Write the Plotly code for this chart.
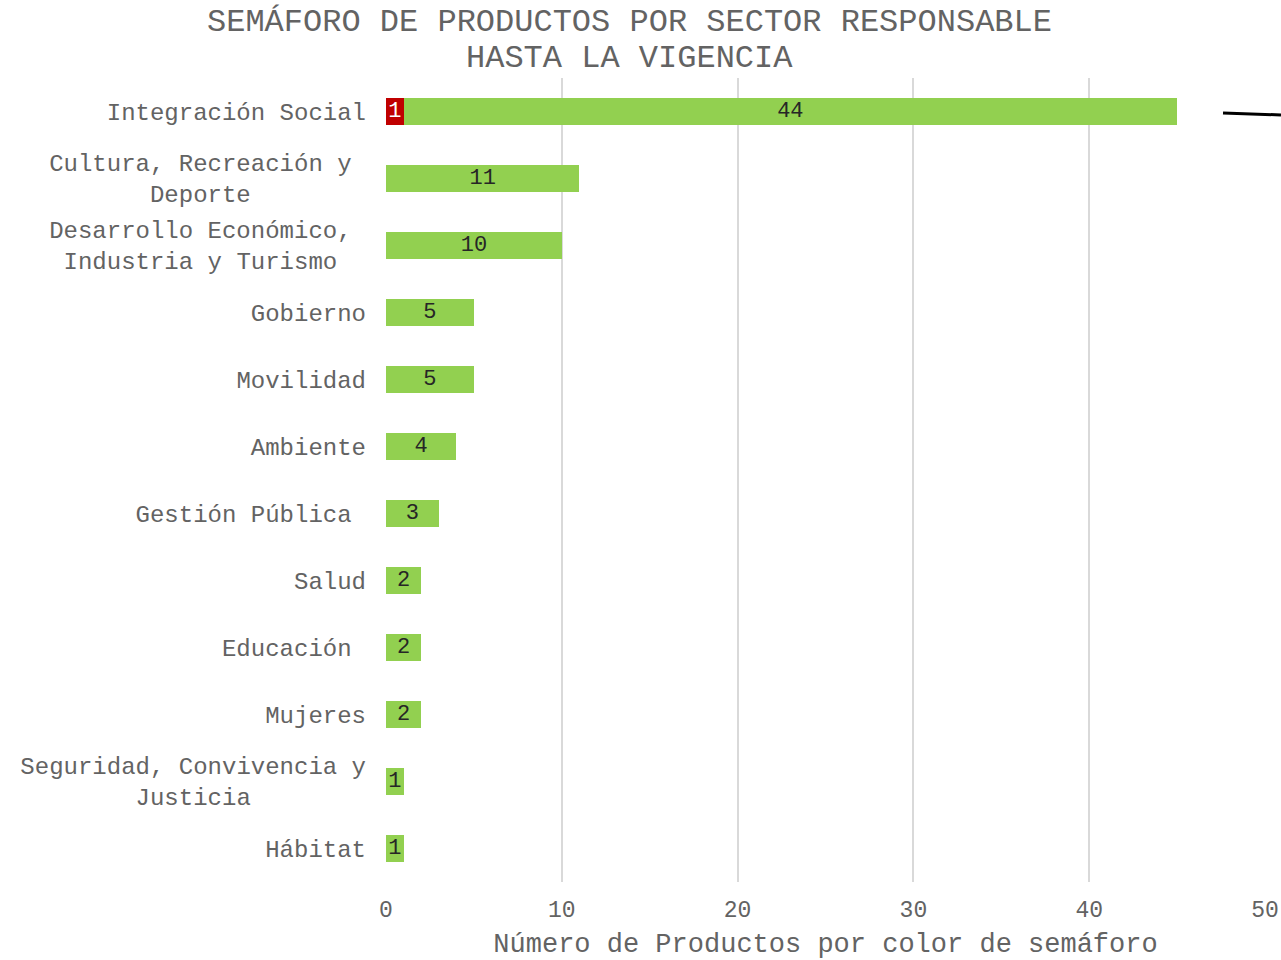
import plotly.graph_objects as go

NB = "\u00a0"
categories = [
    "Integración Social",
    "Cultura, Recreación y" + NB + "<br>Deporte" + NB * 8,
    "Desarrollo Económico," + NB + "<br>Industria y Turismo" + NB * 2,
    "Gobierno",
    "Movilidad",
    "Ambiente",
    "Gestión Pública" + NB,
    "Salud",
    "Educación" + NB,
    "Mujeres",
    "Seguridad, Convivencia y<br>Justicia" + NB * 8,
    "Hábitat",
]
red_values = [1, 0, 0, 0, 0, 0, 0, 0, 0, 0, 0, 0]
green_values = [44, 11, 10, 5, 5, 4, 3, 2, 2, 2, 1, 1]
x_ticks = [0, 10, 20, 30, 40, 50]
title_lines = ["SEMÁFORO DE PRODUCTOS POR SECTOR RESPONSABLE", "HASTA LA VIGENCIA"]

FONT = "Liberation Mono"
GRAY = "#636363"
W, H = 1281, 960

fig = go.Figure()
fig.add_trace(go.Bar(
    y=categories, x=red_values, orientation="h", name="Rojo",
    marker=dict(color="#C00000", line=dict(width=0)),
    text=[str(v) if v else "" for v in red_values],
    textposition="inside", insidetextanchor="middle", textangle=0,
    constraintext="none",
    textfont=dict(family=FONT, size=22, color="white"),
    width=0.39,
))
fig.add_trace(go.Bar(
    y=categories, x=green_values, orientation="h", name="Verde",
    marker=dict(color="#92D050", line=dict(width=0)),
    text=[str(v) for v in green_values],
    textposition="inside", insidetextanchor="middle", textangle=0,
    constraintext="none",
    textfont=dict(family=FONT, size=22, color="#262626"),
    width=0.39,
))

annotations = []
for i, (line, yc) in enumerate(zip(title_lines, [22, 58])):
    annotations.append(dict(
        text=line, xref="paper", yref="paper",
        x=(629 - 386) / (1265 - 386), y=1 + (78 - yc) / (882 - 78),
        xanchor="center", yanchor="middle", showarrow=False,
        font=dict(family=FONT, size=32, color=GRAY),
    ))

fig.update_layout(
    barmode="stack",
    width=W, height=H,
    margin=dict(l=386, r=16, t=78, b=78, autoexpand=False),
    paper_bgcolor="white", plot_bgcolor="white",
    showlegend=False,
    font=dict(family=FONT, color=GRAY),
    annotations=annotations,
    xaxis=dict(
        range=[0, 50], tickvals=x_ticks, ticktext=[str(t) for t in x_ticks],
        showgrid=True, gridcolor="#D9D9D9", gridwidth=2,
        zeroline=False, showline=False, automargin=False,
        tickfont=dict(family=FONT, size=23, color=GRAY),
        ticks="", ticklabelstandoff=11,
        title=dict(text="Número de Productos por color de semáforo",
                   font=dict(family=FONT, size=27, color=GRAY), standoff=17),
    ),
    yaxis=dict(
        categoryorder="array", categoryarray=categories,
        autorange="reversed", automargin=False,
        showgrid=False, zeroline=False, showline=False,
        tickfont=dict(family=FONT, size=24, color=GRAY),
        ticks="", ticklabelstandoff=19,
    ),
    shapes=[dict(
        type="line", xref="paper", yref="paper",
        x0=(1223 - 386) / 879, y0=(882 - 113) / 804,
        x1=(1281 - 386) / 879, y1=(882 - 115) / 804,
        line=dict(color="black", width=3),
    )],
)

fig.write_html(
    "out.html",
    config={"displayModeBar": False},
    post_script="document.body.style.margin='0';document.body.style.overflow='hidden';",
)
